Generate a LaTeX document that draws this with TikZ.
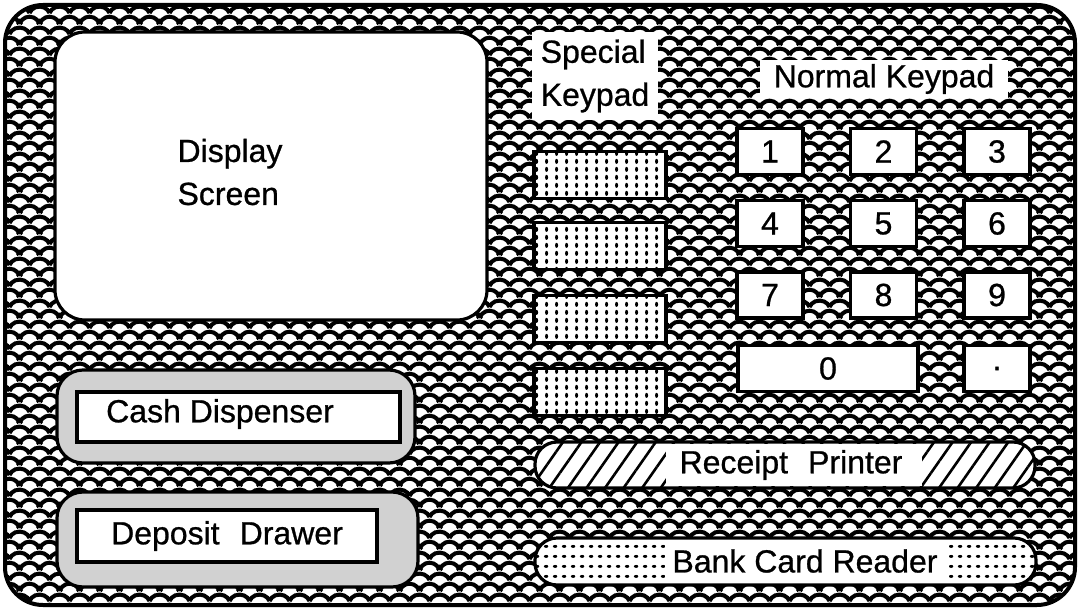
\documentclass[tikz,border=0pt]{standalone}
\usepackage{fontspec}
\setmainfont{Liberation Sans}[FakeBold=0.8]
\usetikzlibrary{patterns,patterns.meta}

\newcommand\fsarc[2]{\pgfpathmoveto{\pgfqpoint{#1pt}{#2pt}}\pgfpatharc{156.8}{23.2}{5.44pt}}
\pgfdeclarepatternformonly{fishscale}{\pgfqpoint{0pt}{0pt}}{\pgfqpoint{10pt}{10.5pt}}{\pgfqpoint{10pt}{10.5pt}}{%
  \pgfsetlinewidth{2.1pt}%
  \fsarc{-10}{0}\fsarc{0}{0}\fsarc{10}{0}%
  \fsarc{-10}{10.5}\fsarc{0}{10.5}\fsarc{10}{10.5}%
  \fsarc{-5}{5.25}\fsarc{5}{5.25}%
  \pgfusepath{stroke}%
}
\pgfdeclarepatternformonly{vdotsfill}{\pgfqpoint{0pt}{0pt}}{\pgfqpoint{4.75pt}{3.75pt}}{\pgfqpoint{4.75pt}{3.75pt}}{%
  \pgfpathellipse{\pgfqpoint{2.4pt}{1.9pt}}{\pgfqpoint{0.8pt}{0pt}}{\pgfqpoint{0pt}{1.35pt}}%
  \pgfusepath{fill}%
}
\pgfdeclarepatternformonly{hdotsfill}{\pgfqpoint{0pt}{0pt}}{\pgfqpoint{4.3pt}{5pt}}{\pgfqpoint{4.3pt}{5pt}}{%
  \pgfpathellipse{\pgfqpoint{2.15pt}{2.5pt}}{\pgfqpoint{1.15pt}{0pt}}{\pgfqpoint{0pt}{0.8pt}}%
  \pgfusepath{fill}%
}

\tikzset{
  txt/.style={font=\fontsize{16}{21.5}\selectfont},
  border/.style={draw=black, line width=1.6pt},
  keybox/.style={border, fill=white, inner sep=0pt, minimum width=33pt, minimum height=23pt, txt},
  specialkey/.style={border, preaction={fill=white}, pattern=vdotsfill, inner sep=0pt, minimum width=66pt, minimum height=23.5pt},
  labelbox/.style={fill=white, inner sep=0pt, txt},
  stipple/.style={border, fill=black!18, rounded corners=13pt},
  slot/.style={rounded corners=11pt},
}

\begin{document}
\begin{tikzpicture}[x=0.5pt, y=-0.5pt]
\useasboundingbox (0,0) rectangle (1080,610);

% housing
\path[fill=white] (5,5) rectangle (1075,605);
\path[pattern=fishscale, rounded corners=19pt] (5,5) rectangle (1075,605);
\draw[line width=2pt, rounded corners=19pt] (5,5) rectangle (1075,605);

% display screen
\draw[border, fill=white, rounded corners=15pt] (55,32) rectangle (487,320);
\node[txt, align=left] (disp) at (230,172) {Display\\Screen};

% special keypad
\node[labelbox, align=left, minimum width=63pt, minimum height=44pt] (splbl) at (595,76) {Special\\Keypad};
\node[specialkey] (sk1) at (600,175) {};
\node[specialkey] (sk2) at (600,246) {};
\node[specialkey] (sk3) at (600,319) {};
\node[specialkey] (sk4) at (600,392) {};

% normal keypad
\node[labelbox, minimum width=124pt, minimum height=19pt] (nklbl) at (884,79) {Normal Keypad};
\node[keybox] (k1) at (770,151.5) {1};
\node[keybox] (k2) at (883.5,151.5) {2};
\node[keybox] (k3) at (997,151.5) {3};
\node[keybox] (k4) at (770,223.5) {4};
\node[keybox] (k5) at (883.5,223.5) {5};
\node[keybox] (k6) at (997,223.5) {6};
\node[keybox] (k7) at (770,295) {7};
\node[keybox] (k8) at (883.5,295) {8};
\node[keybox] (k9) at (997,295) {9};
\node[keybox, minimum width=90pt] (k0) at (828,368.5) {0};
\node[keybox] (kdot) at (997,368.5) {.};

% cash dispenser
\draw[stipple] (57,370) rectangle (415,463);
\node[border, fill=white, minimum width=161.5pt, minimum height=25pt, inner sep=0pt] (cashbox) at (238.5,417) {};
\node[txt] (cashlbl) at (220,414) {Cash Dispenser};

% deposit drawer
\draw[stipple] (57,492) rectangle (418,587);
\node[border, fill=white, minimum width=150pt, minimum height=26pt, inner sep=0pt, txt] (depbox) at (227,536) {Deposit\hspace{0.35em} Drawer};

% receipt printer
\path[slot, fill=white] (535,442) rectangle (1035,488);
\path[slot, pattern={Lines[angle=55, distance=7.6pt, line width=1.3pt]}] (535,442) rectangle (1035,488);
\path[fill=white] (666,444) rectangle (922,486);
\draw[border, slot] (535,442) rectangle (1035,488);
\node[txt, inner sep=0pt] (rplbl) at (791,465) {Receipt\hspace{0.35em} Printer};

% bank card reader
\path[slot, fill=white] (535,538) rectangle (1036,585);
\path[slot, pattern=hdotsfill] (535,538) rectangle (1036,585);
\path[fill=white] (665,540) rectangle (949,583);
\draw[border, slot] (535,538) rectangle (1036,585);
\node[txt, inner sep=0pt] (bclbl) at (805,561) {Bank Card Reader};
\end{tikzpicture}
\end{document}
